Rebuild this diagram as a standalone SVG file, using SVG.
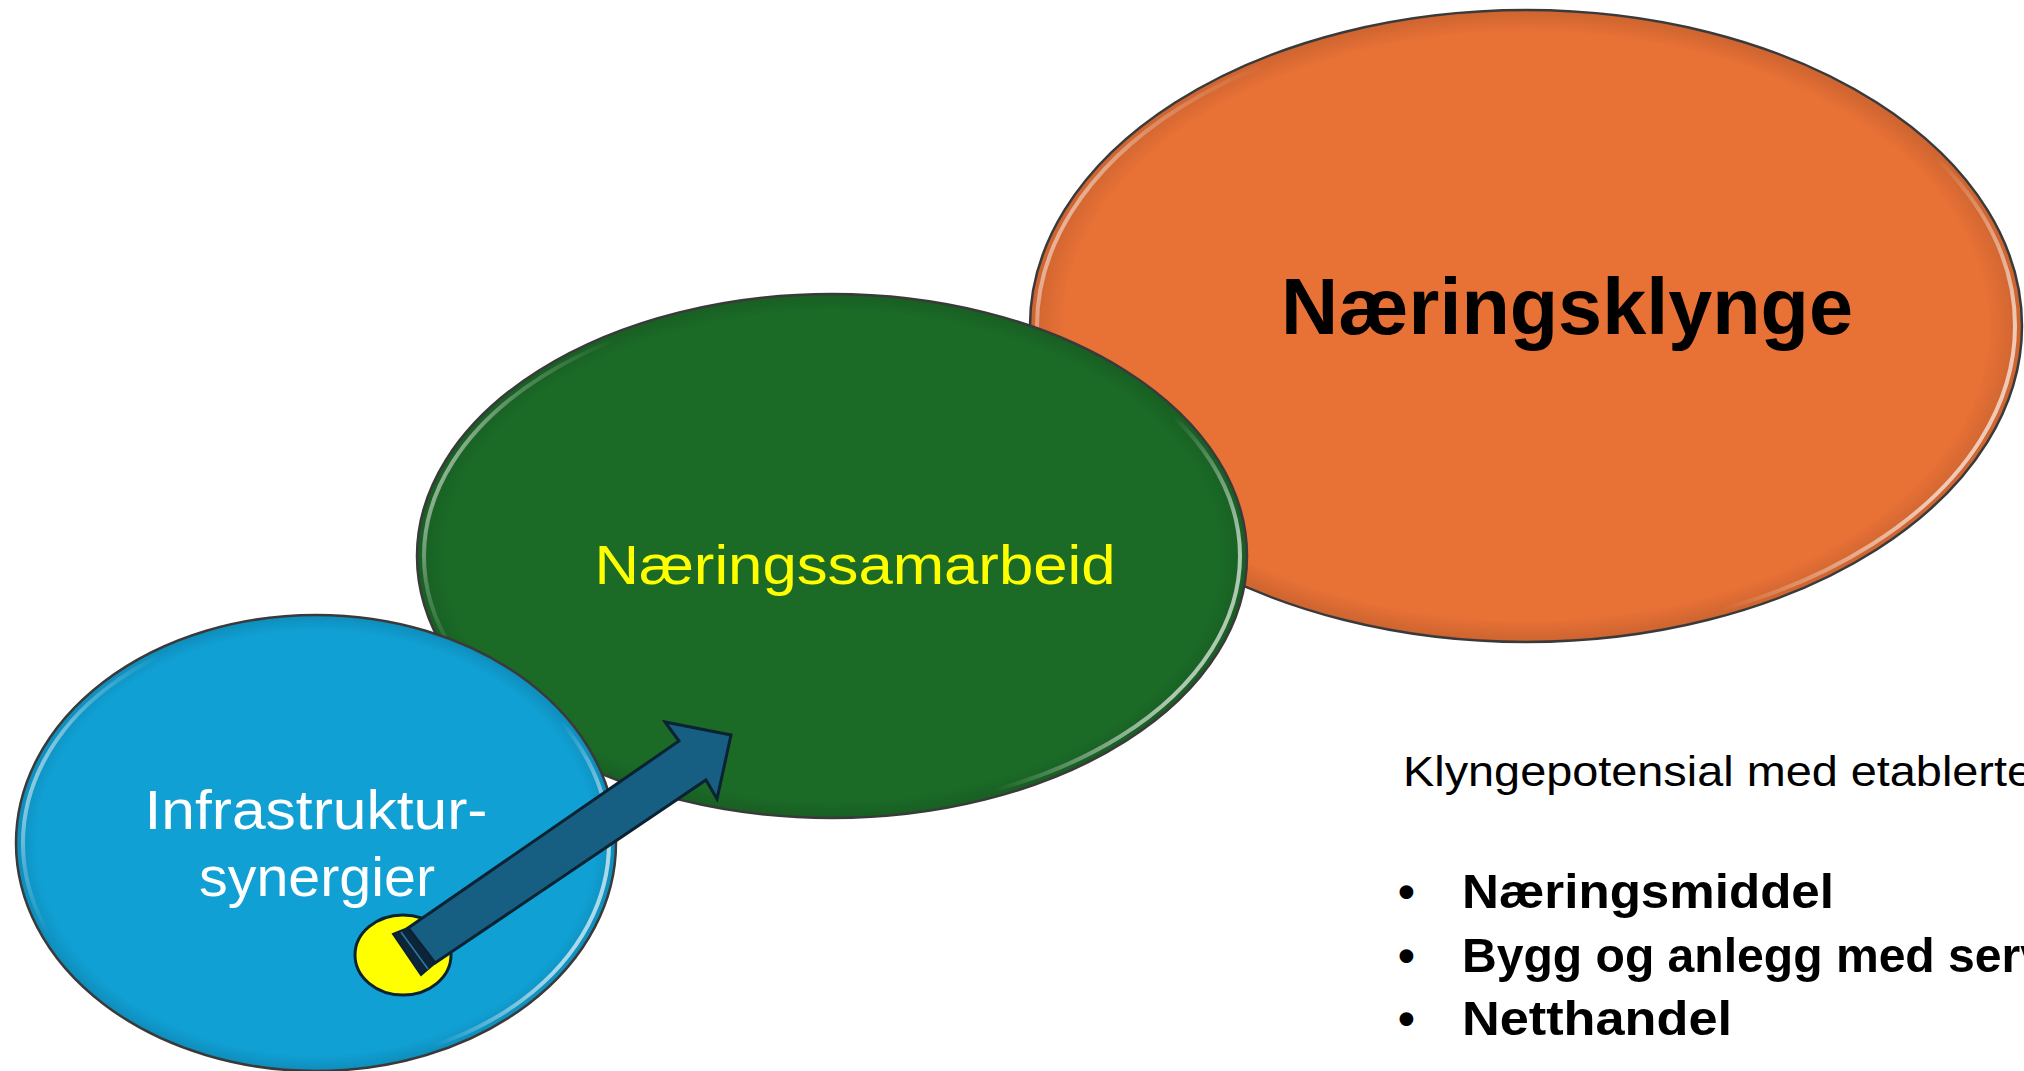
<svg xmlns="http://www.w3.org/2000/svg" width="2024" height="1071" viewBox="0 0 2024 1071">
<style>
  .rim { fill: none; stroke: #3a3a3a; stroke-width: 2.5; }
  .gloss { fill: none; stroke: url(#gloss); stroke-width: 4; }
  .lbl { font-family: "Liberation Sans", Arial, sans-serif; text-anchor: middle; }
  .txt { font-family: "Liberation Sans", Arial, sans-serif; fill: #000; }
  .b { font-weight: bold; }
</style>
<defs>
  <linearGradient id="gloss" x1="0" y1="0.2" x2="1" y2="0.5">
    <stop offset="0" stop-color="#fff" stop-opacity="0.9"/>
    <stop offset="0.1" stop-color="#fff" stop-opacity="0.25"/>
    <stop offset="0.18" stop-color="#fff" stop-opacity="0"/>
    <stop offset="0.85" stop-color="#fff" stop-opacity="0"/>
    <stop offset="1" stop-color="#fff" stop-opacity="0.65"/>
  </linearGradient>
  <radialGradient id="inner" cx="0.5" cy="0.5" r="0.5">
    <stop offset="0.93" stop-color="#000" stop-opacity="0"/>
    <stop offset="1" stop-color="#000" stop-opacity="0.12"/>
  </radialGradient>
</defs>

<g id="node-naeringsklynge">
  <ellipse cx="1526" cy="326" rx="496" ry="316" fill="#e87136"/>
  <ellipse cx="1526" cy="326" rx="496" ry="316" fill="url(#inner)"/>
  <ellipse cx="1526" cy="326" rx="489" ry="309" class="gloss"/>
  <ellipse cx="1526" cy="326" rx="496" ry="316" class="rim"/>
  <text x="1567" y="334" class="lbl b" font-size="80" fill="#000" textLength="572" lengthAdjust="spacingAndGlyphs">Næringsklynge</text>
</g>

<g id="node-naeringssamarbeid">
  <ellipse cx="832" cy="556" rx="415" ry="262" fill="#1b6b27"/>
  <ellipse cx="832" cy="556" rx="415" ry="262" fill="url(#inner)"/>
  <ellipse cx="832" cy="556" rx="408" ry="255" class="gloss"/>
  <ellipse cx="832" cy="556" rx="415" ry="262" class="rim"/>
  <text x="855" y="584" class="lbl" font-size="56" fill="#ffff00" textLength="521" lengthAdjust="spacingAndGlyphs">Næringssamarbeid</text>
</g>

<g id="node-infrastruktur">
  <ellipse cx="316" cy="843" rx="300" ry="228" fill="#10a0d4"/>
  <ellipse cx="316" cy="843" rx="300" ry="228" fill="url(#inner)"/>
  <ellipse cx="316" cy="843" rx="293" ry="221" class="gloss"/>
  <ellipse cx="316" cy="843" rx="300" ry="228" class="rim"/>
  <text x="316" y="829" class="lbl" font-size="56" fill="#fff" textLength="343" lengthAdjust="spacingAndGlyphs">Infrastruktur-</text>
  <text x="317" y="896" class="lbl" font-size="56" fill="#fff" textLength="236" lengthAdjust="spacingAndGlyphs">synergier</text>
</g>

<g id="node-start">
  <ellipse cx="403" cy="955" rx="48" ry="40" fill="#ffff00" stroke="#0b2233" stroke-width="3"/>
</g>

<g id="connectors">
  <polygon points="408,928 679,741 665,722 731,735 717,799 706,780 435,963" fill="#175f82" stroke="#0b2233" stroke-width="3" stroke-linejoin="miter"/>
  <polygon points="393,934 408,928 435,963 421,975" fill="#0d2538" stroke="#0b2233" stroke-width="2"/>
  <line x1="401" y1="932" x2="428" y2="969" stroke="#2f7aa3" stroke-width="1.5"/>
</g>

<g id="text-block">
  <text x="1403" y="786" class="txt" font-size="42" textLength="630" lengthAdjust="spacingAndGlyphs">Klyngepotensial med etablerte</text>
  <text x="1398" y="908" class="txt b" font-size="48">•</text>
  <text x="1462" y="908" class="txt b" font-size="48" textLength="372" lengthAdjust="spacingAndGlyphs">Næringsmiddel</text>
  <text x="1398" y="972" class="txt b" font-size="48">•</text>
  <text x="1462" y="972" class="txt b" font-size="48" textLength="585" lengthAdjust="spacingAndGlyphs">Bygg og anlegg med serv</text>
  <text x="1398" y="1035" class="txt b" font-size="48">•</text>
  <text x="1462" y="1035" class="txt b" font-size="48" textLength="270" lengthAdjust="spacingAndGlyphs">Netthandel</text>
</g>
</svg>
